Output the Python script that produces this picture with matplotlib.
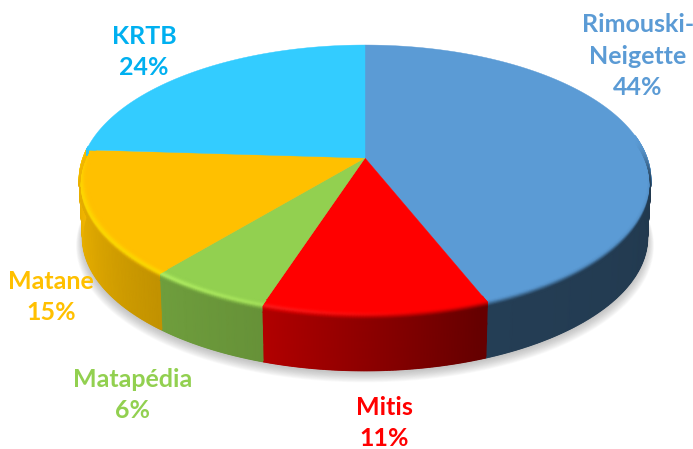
import numpy as np
import matplotlib

matplotlib.use("Agg")
import matplotlib.pyplot as plt
from matplotlib.collections import LineCollection
from matplotlib.colors import to_rgb

names = ["Rimouski-\nNeigette", "Mitis", "Matapédia", "Matane", "KRTB"]
shares = [44, 11, 6, 15, 24]
top_colors = ["#5B9BD5", "#FF0000", "#92D050", "#FFC000", "#33CCFF"]
glow_colors = ["#5B9BD5", "#FF2A2A", "#B4F264", "#FFDC00", "#33CCFF"]
text_colors = ["#5B9BD5", "#FF0000", "#92D050", "#FFC000", "#00B0F0"]
label_pos = [(638, 56), (384, 423), (133, 395), (51, 297), (144, 52)]

# pie geometry in pixels, perspective squeezes the back of the disc
CX, CY = 365, 158
A, B, K = 282, 131.4, 0.163
DEPTH = 58
RB, ZB = 0.035, 6

# side brightness around the rim, dark on the right, light on the left
shade_th = [80, 160, 198, 220, 245, 275]
shade_val = [0.36, 0.40, 0.70, 0.76, 0.87, 0.96]
glow_th = [170, 190, 220, 255, 275]
glow_val = [0, 0.5, 1, 1, 0.6]


def project(th, r=1.0, z=0.0):
    t = np.radians(th)
    u, v = r * np.sin(t), r * np.cos(t)
    w = 1 + K * v
    s = 1 - 0.012 * z / DEPTH
    return CX + s * A * u / w, CY - s * B * v / w + z


def smooth(x):
    x = np.clip(x, 0, 1)
    return x * x * (3 - 2 * x)


def rim_mesh(ax, th, top, glow):
    base = np.array(to_rgb(top))
    hi = np.array(to_rgb(glow))
    ts = np.linspace(0, 1, 15)
    rr = np.where(ts < 0.5, 1 - RB * (1 - 2 * ts), 1.0)
    zz = np.where(ts > 0.5, (ts - 0.5) * 2 * ZB, 0.0)
    tg, rg = np.meshgrid(th, rr)
    zg = np.tile(zz[:, None], (1, len(th)))
    x, y = project(tg, rg, zg)
    tn = ts[:, None]
    thn = th[None, :]
    side = base * np.interp(thn, shade_th, shade_val)[..., None]
    g = (np.interp(thn, glow_th, glow_val) * np.exp(-((tn - 0.5) / 0.2) ** 2))[..., None]
    col = base * (1 - g) + hi * g
    # the dark edge fades out towards the back of the disc
    d = (smooth((tn - 0.35) / 0.65) * smooth((thn - 80) / 22))[..., None]
    col = col * (1 - d) + side * d
    ax.pcolormesh(x, y, col, shading="gouraud", zorder=4)


def side_mesh(ax, th, top):
    base = np.array(to_rgb(top))
    tg, zg = np.meshgrid(th, np.linspace(ZB - 1, DEPTH - 0.6, 4))
    x, y = project(tg, 1.0, zg)
    col = base * np.interp(th, shade_th, shade_val)[:, None]
    ax.pcolormesh(x, y, np.tile(col[None, :, :], (4, 1, 1)), shading="gouraud", zorder=2)
    # smooth bottom outline, the gouraud mesh has hard edges
    bx, by = project(th, 1.0, DEPTH - 0.6)
    pts = np.column_stack([bx, by])
    segs = np.stack([pts[:-1], pts[1:]], axis=1)
    ax.add_collection(LineCollection(segs, colors=col[:-1], linewidths=1.2, zorder=2.5))


fig = plt.figure(figsize=(6.93, 4.49), dpi=100)
ax = fig.add_axes([0, 0, 1, 1])
ax.set_xlim(0, 693)
ax.set_ylim(449, 0)
ax.axis("off")

# soft shadow under the base
th_all = np.linspace(0, 360, 361)
for i in range(12):
    f = i / 11
    x, y = project(th_all, 1.0 + 0.024 * (1 - f), DEPTH + 2 + 5 * (1 - f))
    ax.fill(x, y, color="#808080", alpha=0.045, lw=0, zorder=1)

edges = np.cumsum([0] + shares) / sum(shares) * 360
for i in range(len(shares)):
    lo, hi = edges[i], edges[i + 1]
    th = np.linspace(lo, hi, int(hi - lo) + 2)
    x, y = project(th)
    ax.fill(np.r_[CX, x], np.r_[CY, y], color=top_colors[i], lw=0.3, zorder=3)

    a, b = max(lo, 80), min(hi, 275)
    if b > a:
        vis = np.linspace(a, b, int(b - a) * 2 + 2)
        side_mesh(ax, vis, top_colors[i])
        rim_mesh(ax, vis, top_colors[i], glow_colors[i])

for name, share, c, (lx, ly) in zip(names, shares, text_colors, label_pos):
    ax.text(lx, ly, f"{name}\n{share}%", color=c, ha="center", va="center",
            family="Lato", weight="bold", fontsize=18, linespacing=1.45, zorder=6)

fig.savefig("out.png", dpi=100)
